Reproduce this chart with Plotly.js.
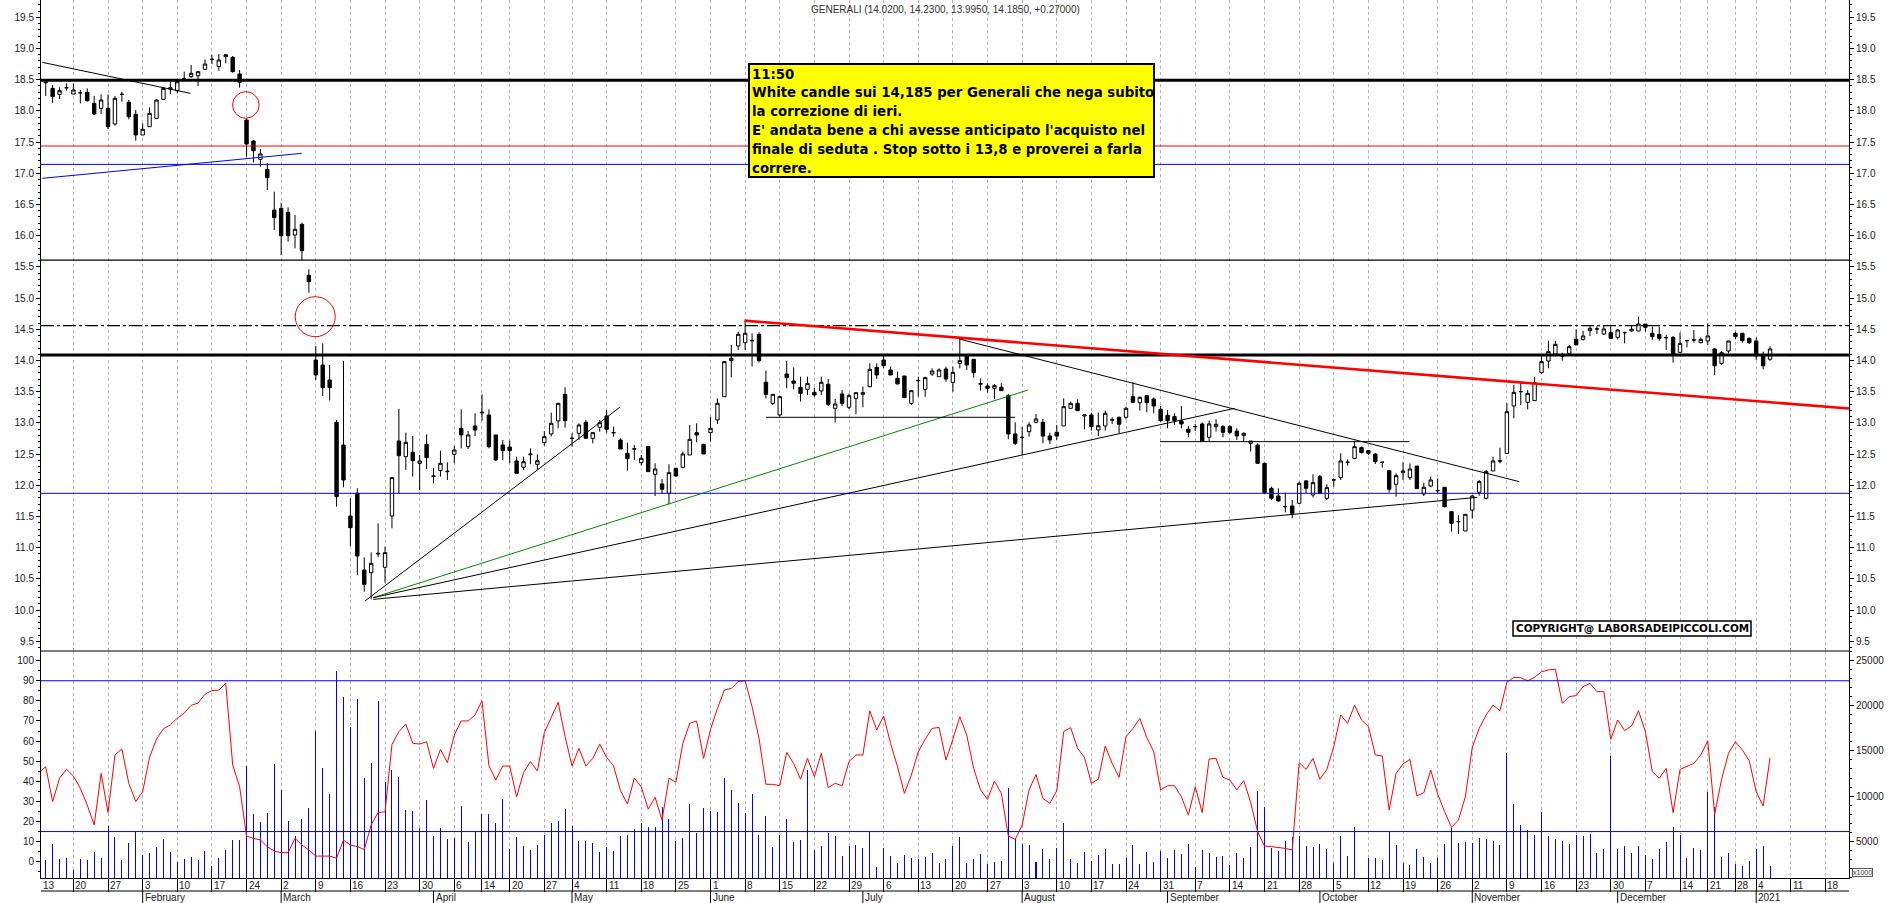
<!DOCTYPE html>
<html><head><meta charset="utf-8">
<script src="https://cdn.plot.ly/plotly-3.0.1.min.js"></script>
<style>html,body{margin:0;padding:0;background:#fff;}#chart{width:1890px;height:903px;}</style>
</head><body><div id="chart"></div>
<script>
// ---------- DATA (one value per trading day, Jan 13 2020 -> Jan 6 2021) ----------
const openP = [18.40,18.45,18.36,18.265,18.37,18.27,18.29,18.297,18.12,18.041,
18.041,17.79,18.265,18.137,17.945,17.614,17.747,17.88,18.185,18.35,
18.324,18.52,18.548,18.564,18.666,18.826,18.709,18.87,18.858,18.591,
17.854,17.517,17.224,17.063,16.412,16.438,16.374,16.011,16.182,15.365,
14.008,13.928,13.688,13.01,12.646,11.508,11.872,10.643,10.60,10.90,
10.686,11.508,12.71,12.459,12.529,12.352,12.657,12.14,12.235,12.219,
12.497,12.913,12.62,12.951,13.16,13.127,12.807,12.646,12.614,12.39,
12.289,12.49,12.337,12.684,12.823,13.031,13.458,12.75,12.833,13.01,
12.753,12.93,13.111,12.84,12.726,12.513,12.58,12.363,12.62,12.176,
12.022,11.872,12.273,12.289,12.486,12.844,12.657,12.844,13.047,13.42,
14.0,14.233,14.286,14.315,14.42,13.651,13.314,13.127,13.784,13.672,
13.57,13.538,13.49,13.512,13.619,13.234,13.464,13.25,13.394,13.458,
13.581,13.891,14.008,13.848,13.715,13.752,13.314,13.675,13.538,13.784,
13.741,13.864,13.65,13.955,14.089,14.019,13.62,13.592,13.554,13.57,
13.437,12.823,12.765,12.86,13.01,13.01,12.79,12.849,12.951,13.234,
13.314,13.111,13.127,12.887,12.951,13.045,13.09,13.09,13.42,13.324,
13.437,13.383,13.218,13.122,13.10,13.031,12.898,12.938,12.983,12.77,
12.94,12.94,12.94,12.87,12.796,12.673,12.646,12.352,11.952,11.829,
11.655,11.669,11.712,12.07,11.845,12.139,11.792,12.085,12.123,12.367,
12.432,12.604,12.556,12.502,12.368,12.235,12.016,12.203,12.123,12.309,
11.861,11.989,11.912,11.968,11.578,11.416,11.268,11.604,11.888,11.792,
12.23,12.388,12.512,13.271,13.50,13.33,13.357,13.805,13.992,14.104,
14.07,14.115,14.339,14.339,14.478,14.503,14.425,14.446,14.371,14.445,
14.473,14.473,14.585,14.436,14.42,14.365,14.371,14.131,14.317,14.328,
14.286,14.313,14.185,13.955,14.152,14.436,14.436,14.355,14.313,14.072,
14.02];
const highP = [18.50,18.47,18.415,18.377,18.44,18.44,18.335,18.36,18.24,18.265,
18.265,18.24,18.308,18.174,18.014,17.80,18.057,18.19,18.377,18.47,
18.51,18.63,18.735,18.64,18.826,18.895,18.911,18.911,18.88,18.655,
17.88,17.533,17.389,17.16,16.706,16.529,16.454,16.332,16.209,15.461,
14.233,14.276,13.928,13.047,13.992,11.792,11.952,10.846,10.926,11.39,
11.017,12.123,13.223,12.844,12.79,12.486,12.817,12.273,12.556,12.369,
12.63,13.218,12.87,13.154,13.458,13.218,12.807,12.726,12.716,12.459,
12.459,12.593,12.497,12.87,13.165,13.314,13.57,12.833,12.994,13.047,
12.844,13.047,13.207,12.94,12.753,12.684,12.646,12.486,12.62,12.353,
12.102,12.337,12.273,12.54,12.967,12.994,12.657,13.10,13.394,13.992,
14.249,14.462,14.639,14.436,14.452,13.838,13.458,13.437,13.992,13.891,
13.741,13.741,13.565,13.741,13.704,13.383,13.528,13.474,13.485,13.581,
13.955,13.955,14.089,13.902,13.822,13.752,13.528,13.741,13.741,13.875,
13.875,13.902,13.902,14.345,14.089,14.019,13.715,13.635,13.624,13.635,
13.464,13.01,12.94,13.01,13.143,13.063,12.844,12.967,13.394,13.341,
13.378,13.127,13.165,13.165,13.196,13.09,13.10,13.261,13.651,13.42,
13.437,13.405,13.271,13.207,13.154,13.271,12.951,12.983,13.01,13.036,
13.058,12.967,12.967,12.914,12.849,12.71,12.673,12.363,11.979,11.952,
11.883,11.765,12.059,12.086,12.176,12.166,12.016,12.112,12.513,12.417,
12.70,12.62,12.566,12.513,12.38,12.246,12.192,12.368,12.352,12.309,
12.043,12.139,12.112,11.968,11.578,11.524,11.535,11.845,12.085,12.246,
12.459,12.604,13.314,13.608,13.645,13.528,13.741,14.072,14.318,14.313,
14.126,14.249,14.50,14.478,14.553,14.553,14.569,14.542,14.505,14.462,
14.569,14.703,14.585,14.542,14.542,14.409,14.393,14.446,14.329,14.489,
14.371,14.596,14.195,14.152,14.313,14.462,14.436,14.371,14.371,14.142,
14.23];
const lowP = [18.30,18.24,18.13,18.19,18.324,18.27,18.12,18.148,17.934,17.95,
17.71,17.763,18.148,17.865,17.523,17.614,17.747,17.88,18.185,18.27,
18.281,18.495,18.532,18.40,18.666,18.751,18.645,18.762,18.613,18.372,
17.266,17.175,17.106,16.732,16.091,15.69,15.904,15.797,15.61,15.087,
13.688,13.432,13.357,11.658,11.968,11.028,10.563,10.296,10.173,10.85,
10.44,11.311,11.872,12.246,12.139,11.925,12.262,12.032,12.139,12.085,
12.353,12.593,12.582,12.79,13.036,12.593,12.39,12.406,12.353,12.192,
12.246,12.337,12.246,12.636,12.78,12.914,12.924,12.62,12.726,12.753,
12.673,12.86,12.844,12.78,12.582,12.235,12.406,12.315,12.219,11.829,
11.861,11.695,12.139,12.273,12.486,12.689,12.502,12.70,12.983,13.42,
13.731,14.169,14.169,13.902,13.971,13.394,13.287,13.10,13.554,13.538,
13.341,13.448,13.421,13.448,13.271,13.004,13.271,13.223,13.138,13.25,
13.57,13.704,13.875,13.768,13.619,13.405,13.287,13.421,13.421,13.752,
13.741,13.661,13.50,13.875,13.848,13.725,13.517,13.485,13.383,13.517,
12.737,12.646,12.486,12.78,12.994,12.673,12.662,12.726,12.951,13.234,
13.196,12.898,12.876,12.79,12.876,12.983,12.833,13.058,13.33,13.196,
13.17,13.154,13.02,12.914,12.967,12.914,12.77,12.87,12.70,12.71,
12.86,12.77,12.823,12.726,12.70,12.54,12.352,11.872,11.765,11.738,
11.567,11.471,11.712,11.872,11.808,11.872,11.765,11.979,12.086,12.315,
12.417,12.513,12.486,12.342,12.283,11.883,11.818,12.085,12.085,11.947,
11.829,11.968,11.872,11.647,11.257,11.22,11.268,11.471,11.834,11.776,
12.23,12.352,12.512,13.073,13.287,13.218,13.357,13.784,13.875,14.062,
13.998,14.104,14.249,14.318,14.393,14.425,14.409,14.355,14.339,14.275,
14.462,14.473,14.462,14.329,14.318,14.168,13.965,14.115,14.211,14.286,
14.275,14.249,13.768,13.928,14.115,14.339,14.286,14.265,14.008,13.859,
13.995];
const closeP = [18.45,18.46,18.23,18.324,18.372,18.335,18.29,18.164,17.95,18.174,
17.747,18.201,18.265,17.907,17.614,17.705,17.961,18.174,18.361,18.37,
18.468,18.52,18.602,18.628,18.751,18.826,18.815,18.90,18.629,18.458,
17.469,17.362,17.31,16.93,16.289,16.0,16.0,16.102,15.76,15.263,
13.768,13.565,13.565,11.818,12.085,11.322,10.867,10.413,10.75,10.91,
10.921,12.123,12.475,12.689,12.395,12.39,12.443,12.15,12.353,12.225,
12.566,12.807,12.807,12.887,13.17,12.62,12.406,12.556,12.556,12.192,
12.379,12.50,12.395,12.78,12.994,13.314,13.036,12.755,12.967,12.753,
12.844,13.004,12.898,12.845,12.582,12.427,12.585,12.433,12.219,12.262,
11.936,12.203,12.15,12.502,12.737,12.807,12.502,12.913,13.314,13.982,
14.035,14.42,14.436,14.32,13.998,13.458,13.458,13.421,13.726,13.635,
13.474,13.634,13.448,13.651,13.298,13.303,13.314,13.437,13.485,13.485,
13.859,13.768,13.918,13.768,13.624,13.405,13.517,13.68,13.726,13.832,
13.848,13.704,13.81,13.998,13.928,13.805,13.63,13.554,13.597,13.517,
12.823,12.673,12.77,12.967,13.063,12.79,12.726,12.79,13.261,13.314,
13.196,13.127,12.94,12.956,13.154,13.05,12.978,13.234,13.33,13.41,
13.324,13.271,13.036,13.036,13.036,12.983,12.849,12.942,12.71,12.983,
12.978,12.849,12.849,12.79,12.833,12.71,12.352,11.883,11.792,11.749,
11.66,11.551,12.032,11.952,12.043,11.872,11.963,12.088,12.39,12.37,
12.62,12.524,12.513,12.379,12.37,11.936,12.155,12.23,12.261,11.947,
11.968,12.085,11.916,11.658,11.391,11.42,11.535,11.829,12.059,12.219,
12.39,12.392,13.18,13.49,13.502,13.474,13.645,13.982,14.142,14.259,
14.074,14.222,14.249,14.393,14.516,14.507,14.505,14.355,14.489,14.447,
14.50,14.585,14.532,14.382,14.355,14.367,14.088,14.275,14.319,14.33,
14.339,14.393,13.917,14.126,14.313,14.382,14.318,14.286,14.072,13.915,
14.185];
const oscillator = [44,47.3,29.9,41.5,46,42.6,36.5,28.2,18.3,43.9,
24.5,53.1,56.1,39,29.9,34.8,52,61,66.1,68.1,
71.4,73.9,77.8,78.9,83.3,85.1,85.4,88.7,48.1,37.3,
12.8,11.6,10.8,7.5,5.3,4.5,4.5,11.6,8.3,5.8,
2.8,2.8,2.8,1.7,10.8,8.3,7.5,6.1,18.3,24.5,
24.8,58.3,64.7,68.5,58.9,58.5,59.7,46.4,55.9,49.3,
63,70,70,73,80,47.8,40.6,47.6,47.6,32.3,
44.3,49.8,45.1,64.2,72.1,79.3,62.2,47.6,56.4,47.6,
51.4,58.5,51.9,47.6,35.3,28.7,41.6,37.3,26.2,32,
20.7,41.5,39.5,58.9,68.8,70,51.4,65.8,76.3,85.4,
86.2,89.6,90,77.1,61.4,38.5,38.5,37.8,54.4,48.9,
41,51.4,42.3,53.9,36.8,39,37.8,49.8,53.1,53.1,
75,65.5,72.5,58.9,47.3,34,43.1,54.7,60.9,66.3,
66.8,50.6,60.9,72.1,63,46.4,35.7,31,40.1,34,
12.8,11.1,18.2,35.7,43.4,31.5,29,35.3,64.7,66.7,
56.4,51.9,39,41,57.5,48.9,42,62.2,66.3,71.3,
61.7,54.7,35.7,37.8,37.8,32.3,23.2,37.3,24.4,51.1,
51.4,42,40.6,35.7,40.3,29.5,15,7.8,7.5,7.1,
6.6,5.8,49.3,45.9,51.4,41,45.9,57.2,73,68.8,
77.9,70.5,67.2,53.1,52.6,25.7,43.9,48.6,50.9,32.7,
34.3,45.6,33.7,24.9,17.1,20.7,32.3,56.9,66.3,73,
77.9,75.1,89.2,91.7,91.5,90,91.7,94.5,95.4,95.7,
78.8,82.1,82.6,87.1,88.7,84.6,84.6,60.9,70.5,65.2,
67.5,75.1,64.7,44.8,41.5,46.4,24.4,45.9,47.3,48.9,
53.1,60.2,23.7,41,53.9,59.7,55.6,50.2,34.8,27.7,
51.7];
const volume = [3000,2932,4701,3042,3153,1826,3042,2932,3817,3153,
6729,5476,2932,4812,6065,3485,3706,4370,5254,3817,
2711,3042,3264,2932,3927,2268,3153,4038,5144,5144,
13365,8019,7135,8130,13549,10709,7245,5586,7467,8718,
17232,13107,10232,23835,20960,17642,20738,12038,13660,20517,
11559,12886,12149,8462,8351,6471,9568,5586,6471,5254,
5365,8939,4923,6065,8019,8019,7024,9679,4148,5476,
4480,4038,4594,5701,7066,7251,8579,6734,5037,5037,
4852,3856,4410,3967,5590,5701,6365,7066,6550,6550,
8838,7472,5037,5406,9133,5959,8727,8358,8247,12048,
10683,9280,8137,10240,5701,7804,4373,5701,7472,4926,
5148,12897,4041,4483,5959,5590,3376,4483,4594,4262,
6070,2159,4262,3376,2638,3487,3192,3044,3303,3745,
2638,3044,4483,5517,2638,3044,3598,2491,2749,2860,
10941,5221,4742,4594,2749,4151,3044,4262,7066,3044,
2638,3819,2860,3487,4151,2491,2491,3118,4594,2491,
3819,2749,3930,3155,4041,3598,4705,2159,4041,3745,
3303,3376,2380,3745,3192,4373,10572,8838,4225,3930,
5037,5517,5590,4483,4336,4705,4151,2638,5590,3376,
6550,900,3118,3192,2934,6181,4594,2638,2380,4151,
3229,2638,3155,4705,6439,4816,4889,4779,5332,5258,
5000,4594,14742,9133,6808,6255,5701,8247,5590,5258,
5037,4705,5701,5627,5812,3745,4151,14446,4151,4483,
3745,4483,3487,3044,4151,4963,6550,5701,3118,4225,
4041,10424,8838,3303,3745,2491,2269,2860,4114,4483,
2269];

// x-axis labels (trading-day index of first session of each week / month)
const weekTickIdx = [0,5,10,15,20,25,30,35,40,45,50,55,60,64,68,73,77,82,87,92,97,102,107,112,117,122,127,132,137,142,147,152,157,162,167,172,177,182,187,192,197,202,207,212,217,222,227,232,237,241,245,248,253,258];
const weekTickLabels = ['13','20','27','3','10','17','24','2','9','16','23','30','6','14','20','27','4','11','18','25','1','8','15','22','29','6','13','20','27','3','10','17','24','31','7','14','21','28','5','12','19','26','2','9','16','23','30','7','14','21','28','4','11','18'];
const monthIdx = [15,35,57,77,97,119,142,163,185,207,228,248];
const monthLabels = ['February','March','April','May','June','July','August','September','October','November','December','2021'];

// drawn levels and trendlines (price values, day index)
const hLevels = [18.49, 17.437, 17.143, 15.61, 14.56, 14.088, 11.872];
const oscLevels = [90, 15];
const trendX0 = [0.5, 0.5, 101.9, 47.1, 48.3, 48.3, 48.3, 132.9, 105.0, 161.9];
const trendY0 = [18.778, 16.919, 14.639, 10.146, 10.20, 10.20, 10.173, 14.345, 13.09, 12.70];
const trendX1 = [21.9, 37.96, 261.4, 83.9, 142.87, 172.7, 207.7, 213.8, 141.0, 197.9];
const trendY1 = [18.281, 17.32, 13.23, 13.25, 13.528, 13.234, 11.807, 12.058, 13.09, 12.70];
const circleX = [29.9, 39.92];
const circleY = [18.095, 14.702];

const noteLines = ["11:50",
 "White candle sui 14,185 per Generali che nega subito",
 "la correzione di ieri.",
 "E' andata bene a chi avesse anticipato l'acquisto nel",
 "finale di seduta . Stop sotto i 13,8 e proverei a farla",
 "correre."];
const copyrightText = "COPYRIGHT@ LABORSADEIPICCOLI.COM";
const ticker = "GENERALI";

// ---------- GEOMETRY ----------
const PL = 41, PR = 1849, PB = 878, SEP = 651;
const pw = PR - PL, ph = PB;
const XR = [0.32, 261.4];
const pxX = v => (v - PL) / pw;
const pxY = v => (PB - v) / ph;
const idxToPaper = i => (i - XR[0]) / (XR[1] - XR[0]);
const splitY = pxY(SEP);

const idx = openP.map((_, i) => i);
const n = closeP.length;
const chg = closeP[n-1] - closeP[n-2];
const titleText = `${ticker} (${openP[n-1].toFixed(4)}, ${highP[n-1].toFixed(4)}, ${lowP[n-1].toFixed(4)}, ${closeP[n-1].toFixed(4)}, ${chg >= 0 ? '+' : ''}${chg.toFixed(5)})`;

const FONT = 'Liberation Sans, Arial, sans-serif';
const axFont = {family: FONT, size: 10, color: '#1a1a1a'};

const traces = [
  {type:'candlestick', x: idx, open: openP, high: highP, low: lowP, close: closeP,
   xaxis:'x', yaxis:'y', whiskerwidth:0, hoverinfo:'skip', showlegend:false,
   increasing:{line:{color:'#000', width:1}, fillcolor:'#ffffff'},
   decreasing:{line:{color:'#000', width:1}, fillcolor:'#000000'}},
  {type:'scatter', x:[idx[0]], y:[closeP[0]], xaxis:'x', yaxis:'y3', mode:'markers',
   marker:{opacity:0}, hoverinfo:'skip', showlegend:false},
  {type:'bar', x: idx, y: volume, xaxis:'x', yaxis:'y2', width:0.145,
   marker:{color:'#0000ff', line:{width:0}}, hoverinfo:'skip', showlegend:false},
  {type:'scatter', x: idx, y: oscillator, xaxis:'x', yaxis:'y4', mode:'lines',
   line:{color:'#ff0000', width:1}, hoverinfo:'skip', showlegend:false}
];

const priceAxis = {
  range:[9.345, 19.777], tickmode:'linear', tick0:9.5, dtick:0.5, tickformat:'.1f',
  ticks:'outside', ticklen:4, tickcolor:'#000', tickwidth:1,
  showline:true, linecolor:'#000', linewidth:1, showgrid:false, zeroline:false,
  tickfont: axFont, fixedrange:true,
  minor:{dtick:0.1, tick0:9.5, ticklen:2, ticks:'outside', tickcolor:'#000', showgrid:false}
};

const shapes = [];
shapes.push({type:'line', xref:'paper', yref:'paper', x0:0, x1:1, y0:splitY, y1:splitY, line:{color:'#000', width:1}});
const levelStyle = [
  {color:'#000', width:3}, {color:'#ff0000', width:1}, {color:'#0000ff', width:1},
  {color:'#000', width:1.3}, {color:'#000', width:1.3, dash:'13px,3px,3px,3px'},
  {color:'#000', width:3}, {color:'#0000ff', width:1}
];
hLevels.forEach((lv, k) => shapes.push({type:'line', xref:'paper', yref:'y', x0:0, x1:1, y0:lv, y1:lv, line:levelStyle[k]}));
oscLevels.forEach(lv => shapes.push({type:'line', xref:'paper', yref:'y4', x0:0, x1:1, y0:lv, y1:lv, line:{color:'#0000ff', width:1}}));
const trendStyle = [
  {color:'#000', width:1}, {color:'#0000ff', width:1}, {color:'#ff0000', width:2.6},
  {color:'#000', width:1}, {color:'#008800', width:1}, {color:'#000', width:1},
  {color:'#000', width:1}, {color:'#000', width:1}, {color:'#000', width:1}, {color:'#000', width:1}
];
trendX0.forEach((_, k) => shapes.push({type:'line', xref:'x', yref:'y',
  x0:trendX0[k], y0:trendY0[k], x1:trendX1[k], y1:trendY1[k], line:trendStyle[k]}));
const circleR = [13.3, 20];
circleX.forEach((cx, k) => shapes.push({type:'circle', xref:'x', yref:'y', xsizemode:'pixel', ysizemode:'pixel',
  xanchor:cx, yanchor:circleY[k], x0:-circleR[k], x1:circleR[k], y0:-circleR[k], y1:circleR[k],
  line:{color:'#ff0000', width:1}}));
const yBand1 = pxY(891), yBand2 = pxY(903);
shapes.push({type:'line', xref:'paper', yref:'paper', x0:0, x1:1, y0:yBand1, y1:yBand1, line:{color:'#000', width:1}});
monthIdx.forEach(m => shapes.push({type:'line', xref:'paper', yref:'paper', x0:idxToPaper(m), x1:idxToPaper(m), y0:yBand1, y1:yBand2, line:{color:'#000', width:1}}));
shapes.push({type:'rect', xref:'paper', yref:'paper', x0:pxX(749), x1:pxX(1154), y0:pxY(177), y1:pxY(64),
  fillcolor:'#ffff00', line:{color:'#000', width:2}});
shapes.push({type:'rect', xref:'paper', yref:'paper', x0:pxX(1513), x1:pxX(1751), y0:pxY(636), y1:pxY(621),
  fillcolor:'#ffffff', line:{color:'#000', width:1.5}});

const annotations = [];
annotations.push({xref:'paper', yref:'paper', x:pxX(945), y:pxY(9), text:titleText, showarrow:false,
  xanchor:'center', yanchor:'middle', font:{family:FONT, size:10, color:'#333'}});
noteLines.forEach((t, k) => annotations.push({xref:'paper', yref:'paper', x:pxX(750), y:pxY(74 + k*18.9), text:t,
  showarrow:false, xanchor:'left', yanchor:'middle', align:'left',
  font:{family:'DejaVu Sans, sans-serif', size:13.3, color:'#000', weight:700}}));
annotations.push({xref:'paper', yref:'paper', x:pxX(1632), y:pxY(628.5), text:copyrightText, showarrow:false,
  xanchor:'center', yanchor:'middle', font:{family:'DejaVu Sans, sans-serif', size:10.4, color:'#000', weight:700}});
weekTickIdx.forEach((w, k) => annotations.push({xref:'x', yref:'paper', x:Math.max(w, XR[0] + 0.01), y:pxY(885), text:weekTickLabels[k],
  showarrow:false, xanchor:'left', yanchor:'middle', font:{family:FONT, size:10, color:'#1a1a1a'}}));
monthIdx.forEach((m, k) => annotations.push({xref:'x', yref:'paper', x:m, y:pxY(897.5), text:monthLabels[k],
  showarrow:false, xanchor:'left', yanchor:'middle', font:{family:FONT, size:10, color:'#1a1a1a'}}));
annotations.push({xref:'paper', yref:'paper', x:pxX(1852), y:pxY(872.5), text:'x1000', showarrow:false,
  xanchor:'left', yanchor:'middle', bordercolor:'#555', borderwidth:1, borderpad:0,
  font:{family:FONT, size:7, color:'#333'}});

const layout = {
  width:1890, height:903, margin:{l:PL, r:1890-PR, t:0, b:903-PB, pad:0},
  paper_bgcolor:'#ffffff', plot_bgcolor:'#ffffff', showlegend:false, dragmode:false,
  bargap:0,
  xaxis:{domain:[0,1], anchor:'y2', range:XR, tickmode:'array', tickvals:weekTickIdx,
    showticklabels:false, ticks:'outside', ticklen:13, tickcolor:'#000', tickwidth:1,
    showgrid:true, gridcolor:'#b4b4b4', gridwidth:1, griddash:'3px,3px',
    showline:true, linecolor:'#000', linewidth:1, zeroline:false,
    rangeslider:{visible:false}, fixedrange:true},
  yaxis:Object.assign({domain:[splitY,1], anchor:'x', side:'left'}, priceAxis),
  yaxis3:Object.assign({overlaying:'y', anchor:'x', side:'right'}, priceAxis),
  yaxis2:{domain:[0,splitY], anchor:'x', side:'right', range:[940, 26051],
    tickmode:'array', tickvals:[5000,10000,15000,20000,25000], tickformat:'d',
    ticks:'outside', ticklen:4, tickcolor:'#000', showline:true, linecolor:'#000',
    showgrid:false, zeroline:false, tickfont:axFont, fixedrange:true,
    minor:{dtick:1000, ticklen:2, ticks:'outside', tickcolor:'#000', showgrid:false}},
  yaxis4:{overlaying:'y2', anchor:'x', side:'left', range:[-8.1, 104.8],
    tickmode:'linear', tick0:0, dtick:10, ticks:'outside', ticklen:4, tickcolor:'#000',
    showline:true, linecolor:'#000', showgrid:false, zeroline:false, tickfont:axFont, fixedrange:true,
    minor:{dtick:5, ticklen:2, ticks:'outside', tickcolor:'#000', showgrid:false}},
  shapes: shapes,
  annotations: annotations
};

Plotly.newPlot('chart', traces, layout, {staticPlot:true, displayModeBar:false});
</script>
</body></html>
